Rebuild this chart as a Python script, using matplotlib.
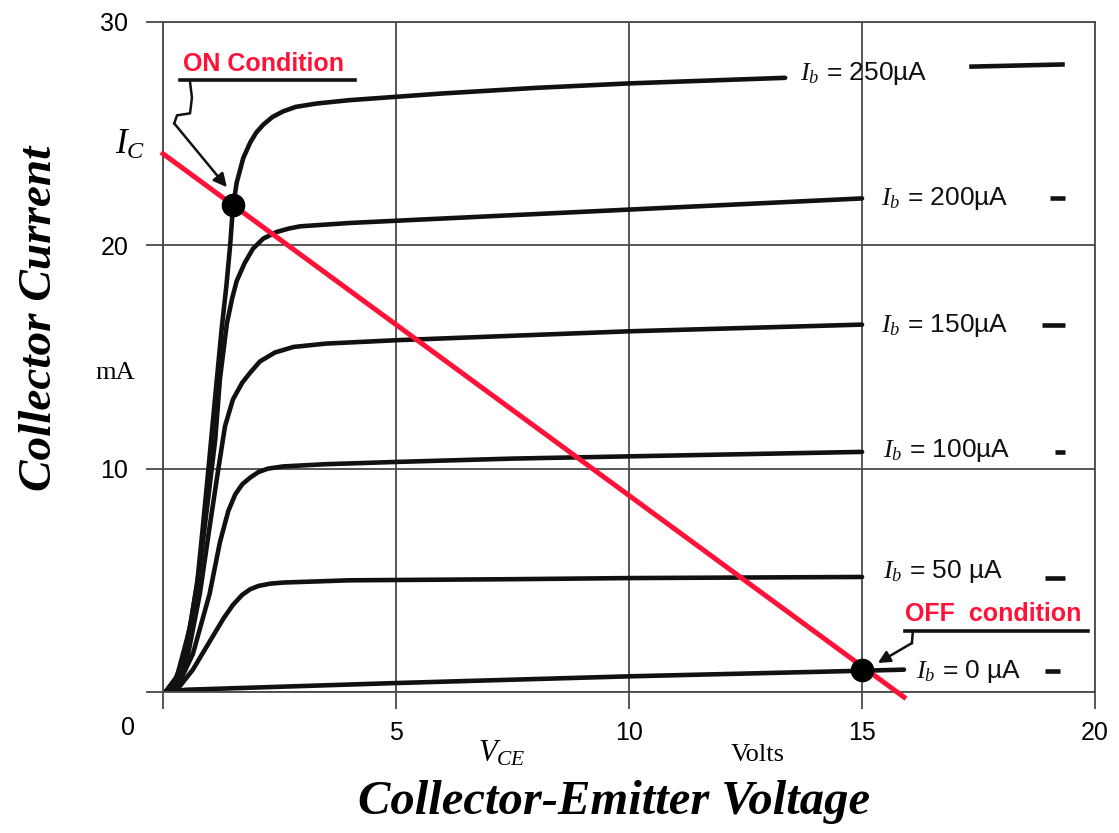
import numpy as np
import matplotlib
matplotlib.use("Agg")
import matplotlib.pyplot as plt

plt.rcParams['font.family'] = ['Liberation Sans', 'DejaVu Sans']
plt.rcParams['mathtext.fontset'] = 'custom'
plt.rcParams['mathtext.it'] = 'Liberation Serif:italic'
plt.rcParams['mathtext.rm'] = 'Liberation Serif'

# Output characteristic curves (V_CE in volts, I_C in mA)
ib250_v = [0.05, 0.25, 0.43, 0.6, 0.73, 0.85, 0.97, 1.1, 1.26, 1.36, 1.44, 1.5, 1.58, 1.72,
           1.87, 2.0, 2.15, 2.35, 2.58, 2.85, 3.3, 4.0, 6.0, 8.0, 10.0, 12.0, 13.35]
ib250_i = [0.0, 0.5, 1.4, 3.2, 4.8, 7.3, 9.9, 12.8, 16.3, 18.2, 20.0, 21.7, 22.8, 23.9,
           24.6, 25.05, 25.4, 25.75, 26.0, 26.2, 26.35, 26.5, 26.8, 27.05, 27.25, 27.4, 27.5]
ib200_v = [0.05, 0.3, 0.58, 0.8, 0.97, 1.12, 1.22, 1.37, 1.48, 1.58, 1.75, 1.93, 2.15, 2.44,
           2.7, 2.94, 4.0, 5.0, 7.5, 10.0, 12.5, 15.0]
ib200_i = [0.0, 0.7, 2.9, 5.8, 8.7, 11.3, 14.0, 16.5, 17.6, 18.4, 19.2, 19.85, 20.3, 20.6,
           20.75, 20.85, 21.0, 21.1, 21.35, 21.6, 21.85, 22.1]
ib150_v = [0.05, 0.3, 0.51, 0.79, 1.0, 1.18, 1.33, 1.5, 1.7, 1.87, 2.08, 2.4, 2.8, 3.5,
           5.0, 7.5, 10.0, 12.5, 15.0]
ib150_i = [0.0, 0.4, 1.4, 4.4, 7.4, 9.9, 11.9, 13.1, 13.85, 14.3, 14.8, 15.2, 15.45, 15.6,
           15.75, 15.95, 16.15, 16.3, 16.45]
ib100_v = [0.05, 0.3, 0.64, 1.0, 1.22, 1.4, 1.55, 1.7, 1.87, 2.05, 2.25, 2.58, 3.5, 5.0,
           7.5, 10.0, 12.5, 15.0]
ib100_i = [0.0, 0.2, 1.7, 4.4, 6.7, 8.1, 8.85, 9.3, 9.6, 9.85, 10.0, 10.1, 10.2, 10.3,
           10.45, 10.55, 10.65, 10.75]
ib50_v = [0.05, 0.3, 0.64, 1.07, 1.3, 1.5, 1.7, 1.87, 2.05, 2.3, 2.58, 4.0, 7.5, 10.0, 15.0]
ib50_i = [0.0, 0.1, 1.0, 2.5, 3.3, 3.9, 4.35, 4.6, 4.75, 4.85, 4.9, 5.0, 5.05, 5.1, 5.15]
ib0_v = [0.05, 0.5, 5.0, 10.0, 15.0, 15.9]
ib0_i = [0.0, 0.1, 0.4, 0.7, 0.95, 1.0]

curves_v = [ib250_v, ib200_v, ib150_v, ib100_v, ib50_v, ib0_v]
curves_i = [ib250_i, ib200_i, ib150_i, ib100_i, ib50_i, ib0_i]

# short pieces of each curve drawn after its label
tail_v0 = [17.3, 19.03, 18.86, 19.14, 18.93, 18.93]
tail_v1 = [19.35, 19.36, 19.36, 19.36, 19.36, 19.25]
tail_i0 = [28.0, 22.1, 16.45, 10.75, 5.1, 0.95]
tail_i1 = [28.1, 22.1, 16.45, 10.75, 5.1, 0.95]

labels = [r"$I_b$ = 250µA", r"$I_b$ = 200µA", r"$I_b$ = 150µA",
          r"$I_b$ = 100µA", r"$I_b$ = 50 µA", r"$I_b$ = 0 µA"]
label_v = [13.67, 15.4, 15.4, 15.45, 15.45, 16.15]
label_i = [27.7, 22.1, 16.4, 10.8, 5.4, 0.9]

# load line and operating points
load_v = [0.0, 15.9]
load_i = [24.1, -0.23]
on_point = (1.5, 21.8)
off_point = (15.0, 1.0)

xticks = [0, 5, 10, 15, 20]
yticks = [0, 10, 20, 30]

fig = plt.figure(figsize=(11.19, 8.33), dpi=100)
ax = fig.add_axes([0.1457, 0.1693, 0.8329, 0.8043])
ax.set_xlim(0, 20)
ax.set_ylim(0, 30)

grid_col = '#4a4a4a'
for s in ax.spines.values():
    s.set_color(grid_col)
    s.set_linewidth(1.3)
ax.set_xticks(xticks)
ax.set_yticks(yticks)
ax.set_xticklabels([''] + [str(t) for t in xticks[1:]])
ax.set_yticklabels([''] + [str(t) for t in yticks[1:]])
ax.tick_params(axis='both', direction='out', length=12, width=1.3, color=grid_col,
               labelsize=18)
ax.tick_params(axis='x', pad=9)
ax.tick_params(axis='y', pad=13)
ax.grid(True, color=grid_col, linewidth=1.3)
ax.set_axisbelow(True)

curve_col = '#111111'
for v, i in zip(curves_v, curves_i):
    ax.plot(v, i, color=curve_col, lw=3.3, solid_capstyle='round', solid_joinstyle='round')
for a, b, c, d in zip(tail_v0, tail_v1, tail_i0, tail_i1):
    ax.plot([a, b], [c, d], color=curve_col, lw=3.3, solid_capstyle='butt', clip_on=False)
for txt, x, y in zip(labels, label_v, label_i):
    ax.text(x, y, txt, fontsize=19, ha='left', va='center', color='#111111')

red = '#ff1238'
ax.plot(load_v, load_i, color=red, lw=3.6, clip_on=False, zorder=3)
ax.plot(*on_point, 'o', color='black', markersize=16, zorder=4)
ax.plot(*off_point, 'o', color='black', markersize=16, zorder=4, clip_on=False)

# ON condition annotation
ax.text(0.43, 28.1, "ON Condition", color=red, fontsize=18, fontweight='bold',
        ha='left', va='center')
ax.plot([0.36, 4.12], [27.4, 27.4], color='#111111', lw=2.6, clip_on=False)
ax.plot([0.58, 0.62, 0.58, 0.30, 0.24], [27.3, 26.62, 25.91, 25.82, 25.46],
        color='#111111', lw=1.8)
ax.annotate('', xy=(1.37, 22.6), xytext=(0.24, 25.46),
            arrowprops=dict(arrowstyle='-|>', lw=1.8, color='#111111', mutation_scale=20,
                            shrinkA=0, shrinkB=0))

# OFF condition annotation
ax.text(15.92, 3.5, "OFF  condition", color=red, fontsize=18, fontweight='bold',
        ha='left', va='center')
ax.plot([15.92, 19.85], [2.73, 2.73], color='#111111', lw=2.6, clip_on=False)
ax.plot([16.09, 16.07], [2.7, 2.19], color='#111111', lw=1.8, clip_on=False)
ax.annotate('', xy=(15.34, 1.3), xytext=(16.07, 2.19),
            arrowprops=dict(arrowstyle='-|>', lw=1.8, color='#111111', mutation_scale=18,
                            shrinkA=0, shrinkB=0))

# axis texts
ax.text(-0.75, -1.6, "0", fontsize=18, ha='center', va='center')
ax.text(-0.7, 24.5, r"$I_C$", fontsize=25, ha='center', va='center')
ax.text(-1.03, 14.3, "mA", fontsize=19, ha='center', va='center', family='Liberation Serif')
ax.text(7.27, -2.75, r"$V_{CE}$", fontsize=22, ha='center', va='center')
ax.text(12.77, -2.82, "Volts", fontsize=19, ha='center', va='center', family='Liberation Serif')

title_font = ['Liberation Serif', 'DejaVu Serif']
fig.text(0.036, 0.618, "Collector Current", rotation=90, ha='center', va='center',
         fontsize=34, fontweight='bold', fontstyle='italic', family=title_font)
fig.text(0.549, 0.037, "Collector-Emitter Voltage", ha='center', va='center',
         fontsize=35, fontweight='bold', fontstyle='italic', family=title_font)

fig.savefig("out.png", dpi=100)
